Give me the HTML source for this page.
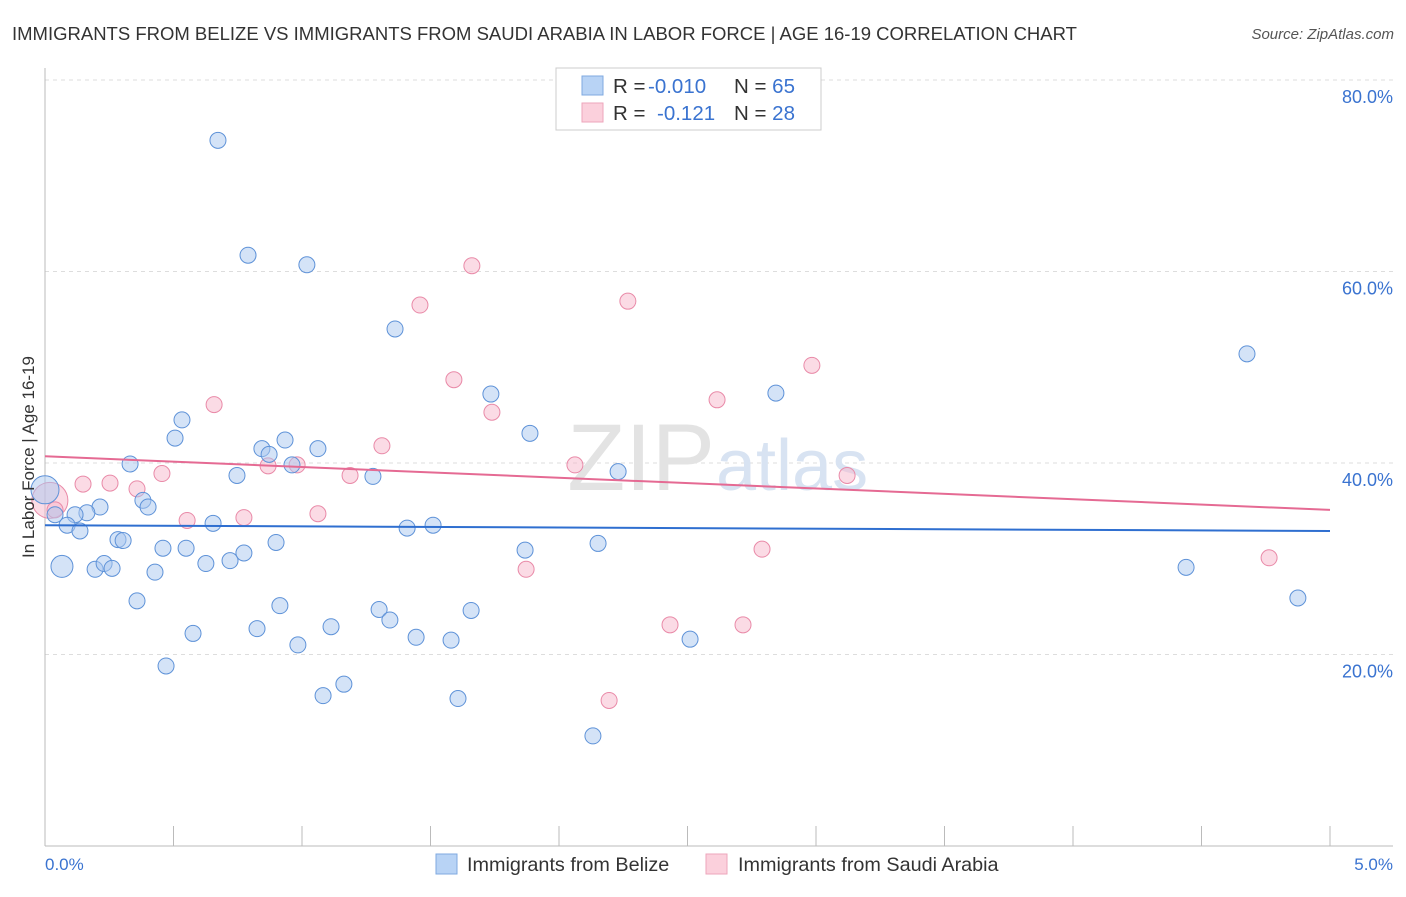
<!DOCTYPE html>
<html><head><meta charset="utf-8">
<style>
body{margin:0;background:#fff;font-family:"Liberation Sans",sans-serif;}
svg text{font-family:"Liberation Sans",sans-serif;}
</style></head>
<body>
<svg id="chart" width="1406" height="892" xmlns="http://www.w3.org/2000/svg">
<text x="12" y="40" font-size="18.5" fill="#333">IMMIGRANTS FROM BELIZE VS IMMIGRANTS FROM SAUDI ARABIA IN LABOR FORCE | AGE 16-19 CORRELATION CHART</text>
<text x="1394" y="39" font-size="15" fill="#555" font-style="italic" text-anchor="end">Source: ZipAtlas.com</text>
<g id="grid"></g>
<text x="715" y="490" font-size="95" fill="#e3e3e3" text-anchor="end" font-family="Liberation Serif">ZIP</text>
<text x="716" y="490" font-size="72" fill="#d8e3f2">atlas</text>
<g id="pts"></g>
<g id="lines"></g>
<text transform="translate(34,457) rotate(-90)" font-size="17" fill="#333" text-anchor="middle">In Labor Force | Age 16-19</text>
<text x="45" y="870" font-size="17" fill="#3a73d0">0.0%</text>
<text x="1393" y="870" font-size="17" fill="#3a73d0" text-anchor="end">5.0%</text>
<g>
<rect x="556" y="68" width="265" height="62" fill="#fff" stroke="#ccc"/>
<rect x="582" y="76" width="21" height="19" fill="#b8d3f5" stroke="#7fa9e0"/>
<rect x="582" y="103" width="21" height="19" fill="#fbd0dc" stroke="#eea6bb"/>
<text x="613" y="93" font-size="20.5" fill="#333">R = <tspan x="648" fill="#3a73d0">-0.010</tspan><tspan x="734">N = </tspan><tspan fill="#3a73d0">65</tspan></text>
<text x="613" y="120" font-size="20.5" fill="#333">R = <tspan x="657" fill="#3a73d0">-0.121</tspan><tspan x="734">N = </tspan><tspan fill="#3a73d0">28</tspan></text>
</g>
<g>
<rect x="436" y="854" width="21" height="20" fill="#b8d3f5" stroke="#7fa9e0"/>
<text x="467" y="871" font-size="19.8" fill="#333">Immigrants from Belize</text>
<rect x="706" y="854" width="21" height="20" fill="#fbd0dc" stroke="#eea6bb"/>
<text x="738" y="871" font-size="19.8" fill="#333">Immigrants from Saudi Arabia</text>
</g>
</svg>
<script>
const yTicks=[20,40,60,80];
const yTickLabels=["20.0%","40.0%","60.0%","80.0%"];
const xTicks=[0.5,1,1.5,2,2.5,3,3.5,4,4.5,5];
const belizeX=[0.673,0.790,1.019,1.362,1.735,2.844,4.677,1.887,0.533,0.506,0.844,0.934,1.062,0.872,0.961,0.747,1.276,2.230,0.331,0,0.381,0.401,0.214,0.163,0.039,0.117,0.086,0.136,0.654,1.409,1.510,0.284,0.304,0.899,0.459,0.549,1.868,2.152,0.066,0.195,0.230,0.261,0.626,0.720,0.774,0.428,4.440,0.358,0.914,1.300,1.658,1.342,1.113,0.576,0.825,1.444,1.580,2.510,0.984,0.471,1.163,1.082,1.607,2.132,4.875];
const belizeY=[73.7,61.7,60.7,54.0,47.2,47.3,51.4,43.1,44.5,42.6,41.5,42.4,41.5,40.9,39.8,38.7,38.6,39.1,39.9,37.2,36.1,35.4,35.4,34.8,34.6,34.6,33.5,32.9,33.7,33.2,33.5,32.0,31.9,31.7,31.1,31.1,30.9,31.6,29.2,28.9,29.5,29.0,29.5,29.8,30.6,28.6,29.1,25.6,25.1,24.7,24.6,23.6,22.9,22.2,22.7,21.8,21.5,21.6,21.0,18.8,16.9,15.7,15.4,11.5,25.9];
const saudiX=[1.661,1.459,2.268,2.984,1.591,0.658,1.739,2.615,1.311,0.868,0.981,2.062,0.455,1.187,3.121,0.253,0.148,0.358,0.019,0.039,1.062,0.553,0.774,1.872,2.790,4.763,2.432,2.716,2.195];
const saudiY=[60.6,56.5,56.9,50.2,48.7,46.1,45.3,46.6,41.8,39.7,39.8,39.8,38.9,38.7,38.7,37.9,37.8,37.3,36.1,35.1,34.7,34.0,34.3,28.9,31.0,30.1,23.1,23.1,15.2];
const belizeTrend=[33.5,32.9];
const saudiTrend=[40.7,35.1];
const NS="http://www.w3.org/2000/svg";
const X0=45,X1=1330,Y0=846,PY=9.575;
function sx(v){return X0+v*(X1-X0)/5;}
function sy(v){return Y0-v*PY;}
function mk(tag,attrs,parent){const e=document.createElementNS(NS,tag);for(const k in attrs)e.setAttribute(k,attrs[k]);parent.appendChild(e);return e;}
const grid=document.getElementById('grid');
yTicks.forEach((t,i)=>{
 const l=mk('line',{x1:45,x2:1393,y1:sy(t),y2:sy(t),stroke:'#ddd','stroke-dasharray':'4,4'},grid);
 
 
 const tx=mk('text',{x:1393,y:sy(t)+23,'font-size':18,fill:'#3a73d0','text-anchor':'end'},grid);
 tx.textContent=yTickLabels[i];
 
 
});
const ax=mk('line',{x1:45,x2:1393,y1:Y0,y2:Y0,stroke:'#bbb'},grid);


const ay=mk('line',{x1:45,x2:45,y1:68,y2:Y0,stroke:'#bbb'},grid);


xTicks.forEach(t=>{
 const l=mk('line',{x1:sx(t),x2:sx(t),y1:826,y2:Y0,stroke:'#bbb'},grid);
 
 
});
const pts=document.getElementById('pts');
saudiX.forEach((x,i)=>{
 const big=(i===18);
 const c=mk('circle',{cx:sx(x),cy:sy(saudiY[i]),r:big?18:8,fill:'#f7b8cb','fill-opacity':0.5,stroke:'#e98aa8','stroke-width':1},pts);
 
 
});
belizeX.forEach((x,i)=>{
 const big=(i===19);
 const c=mk('circle',{cx:sx(x),cy:sy(belizeY[i]),r:big?14:(i===38?11:8),fill:'#a9c8f0','fill-opacity':0.5,stroke:'#5e92d8','stroke-width':1},pts);
 
 
});
const lines=document.getElementById('lines');
const bl=mk('line',{x1:sx(0),x2:sx(5),y1:sy(belizeTrend[0]),y2:sy(belizeTrend[1]),stroke:'#2f6fd0','stroke-width':2},lines);


const pl=mk('line',{x1:sx(0),x2:sx(5),y1:sy(saudiTrend[0]),y2:sy(saudiTrend[1]),stroke:'#e56a93','stroke-width':2},lines);


</script>
</body></html>
